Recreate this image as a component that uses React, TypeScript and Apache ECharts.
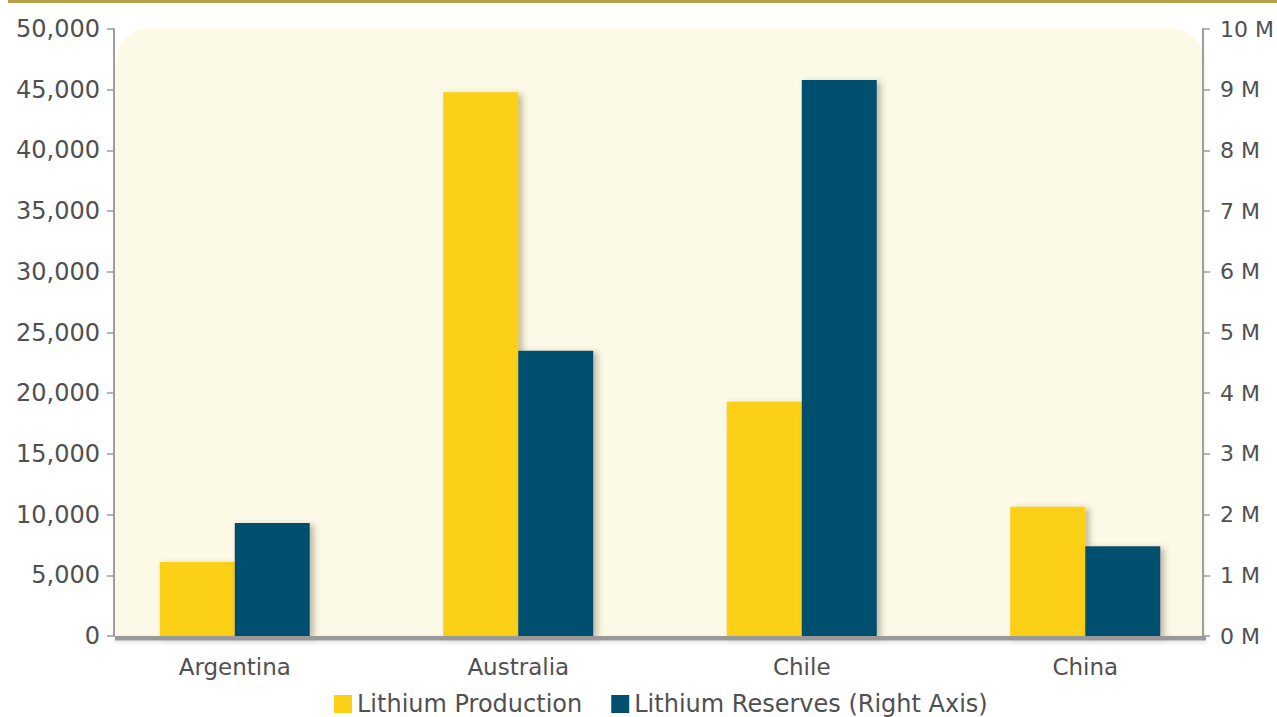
import React, { useEffect, useRef } from "react";
import * as echarts from "echarts";

// Lithium production (tonnes, left axis) and reserves (tonnes, right axis) by country
const countries = ["Argentina", "Australia", "Chile", "China"];
const production = [6100, 44800, 19300, 10650];
const reserves = [1860000, 4700000, 9160000, 1480000];

const seriesNames = ["Lithium Production", "Lithium Reserves (Right Axis)"];

const FONT = "DejaVu Sans";
const TEXT = "#505050";
const AXIS = "#9d9d9d";
const GOLD = "#FCD015";
const NAVY = "#02506E";

export default function App() {
  const ref = useRef<HTMLDivElement>(null);

  useEffect(() => {
    if (!ref.current) return;
    const chart = echarts.init(ref.current, undefined, { renderer: "svg" });

    const barShadow = {
      shadowColor: "rgba(70, 60, 30, 0.35)",
      shadowBlur: 6,
      shadowOffsetX: 4,
      shadowOffsetY: 2,
    };

    chart.setOption({
      animation: false,
      backgroundColor: "#ffffff",
      textStyle: { fontFamily: FONT },
      grid: { left: 93, right: 46, top: 29, bottom: 81, containLabel: false },
      graphic: [
        // rule across the top of the page
        {
          type: "rect",
          z: -10,
          shape: { x: 8, y: 0, width: 1269, height: 3 },
          style: { fill: "#B7A24B" },
        },
        // plot panel with rounded upper corners
        {
          type: "rect",
          z: -10,
          shape: { x: 115, y: 28, width: 1091, height: 608, r: [36, 36, 0, 0] },
          style: { fill: "#FCF9E7" },
        },
        // heavy baseline under the bars
        {
          type: "rect",
          z: 10,
          shape: { x: 115, y: 636, width: 1091, height: 4.5 },
          style: {
            fill: "#999999",
            shadowColor: "rgba(0,0,0,0.12)",
            shadowBlur: 4,
            shadowOffsetY: 2,
          },
        },
      ],
      legend: {
        left: 334,
        top: 692,
        padding: 0,
        itemWidth: 18,
        itemHeight: 18,
        itemGap: 29,
        icon: "rect",
        textStyle: { fontFamily: FONT, fontSize: 24, lineHeight: 20, color: TEXT },
        data: seriesNames,
      },
      xAxis: {
        type: "category",
        data: countries,
        axisLine: { show: false },
        axisTick: { show: false },
        axisLabel: { margin: 19, fontFamily: FONT, fontSize: 23, color: TEXT },
      },
      yAxis: [
        {
          type: "value",
          min: 0,
          max: 50000,
          interval: 5000,
          offset: -21,
          position: "left",
          splitLine: { show: false },
          axisLine: { show: true, lineStyle: { color: AXIS, width: 2 } },
          axisTick: { show: true, length: 7, lineStyle: { color: AXIS, width: 1.5 } },
          axisLabel: {
            margin: 14,
            fontFamily: FONT,
            fontSize: 24,
            color: TEXT,
            formatter: (v: number) => v.toLocaleString("en-US"),
          },
        },
        {
          type: "value",
          min: 0,
          max: 10000000,
          interval: 1000000,
          offset: -24,
          position: "right",
          splitLine: { show: false },
          axisLine: { show: true, lineStyle: { color: AXIS, width: 2 } },
          axisTick: { show: true, length: 7, lineStyle: { color: AXIS, width: 1.5 } },
          axisLabel: {
            margin: 17,
            fontFamily: FONT,
            fontSize: 22,
            color: TEXT,
            formatter: (v: number) => `${v / 1000000} M`,
          },
        },
      ],
      series: [
        {
          name: seriesNames[0],
          type: "bar",
          yAxisIndex: 0,
          data: production,
          barWidth: 75,
          barGap: "0%",
          itemStyle: { color: GOLD, ...barShadow },
        },
        {
          name: seriesNames[1],
          type: "bar",
          yAxisIndex: 1,
          data: reserves,
          barWidth: 75,
          barGap: "0%",
          itemStyle: { color: NAVY, ...barShadow },
        },
      ],
    });

    return () => chart.dispose();
  }, []);

  return (
    <div
      ref={ref}
      style={{ position: "fixed", left: 0, top: 0, width: 1277, height: 717 }}
    />
  );
}
